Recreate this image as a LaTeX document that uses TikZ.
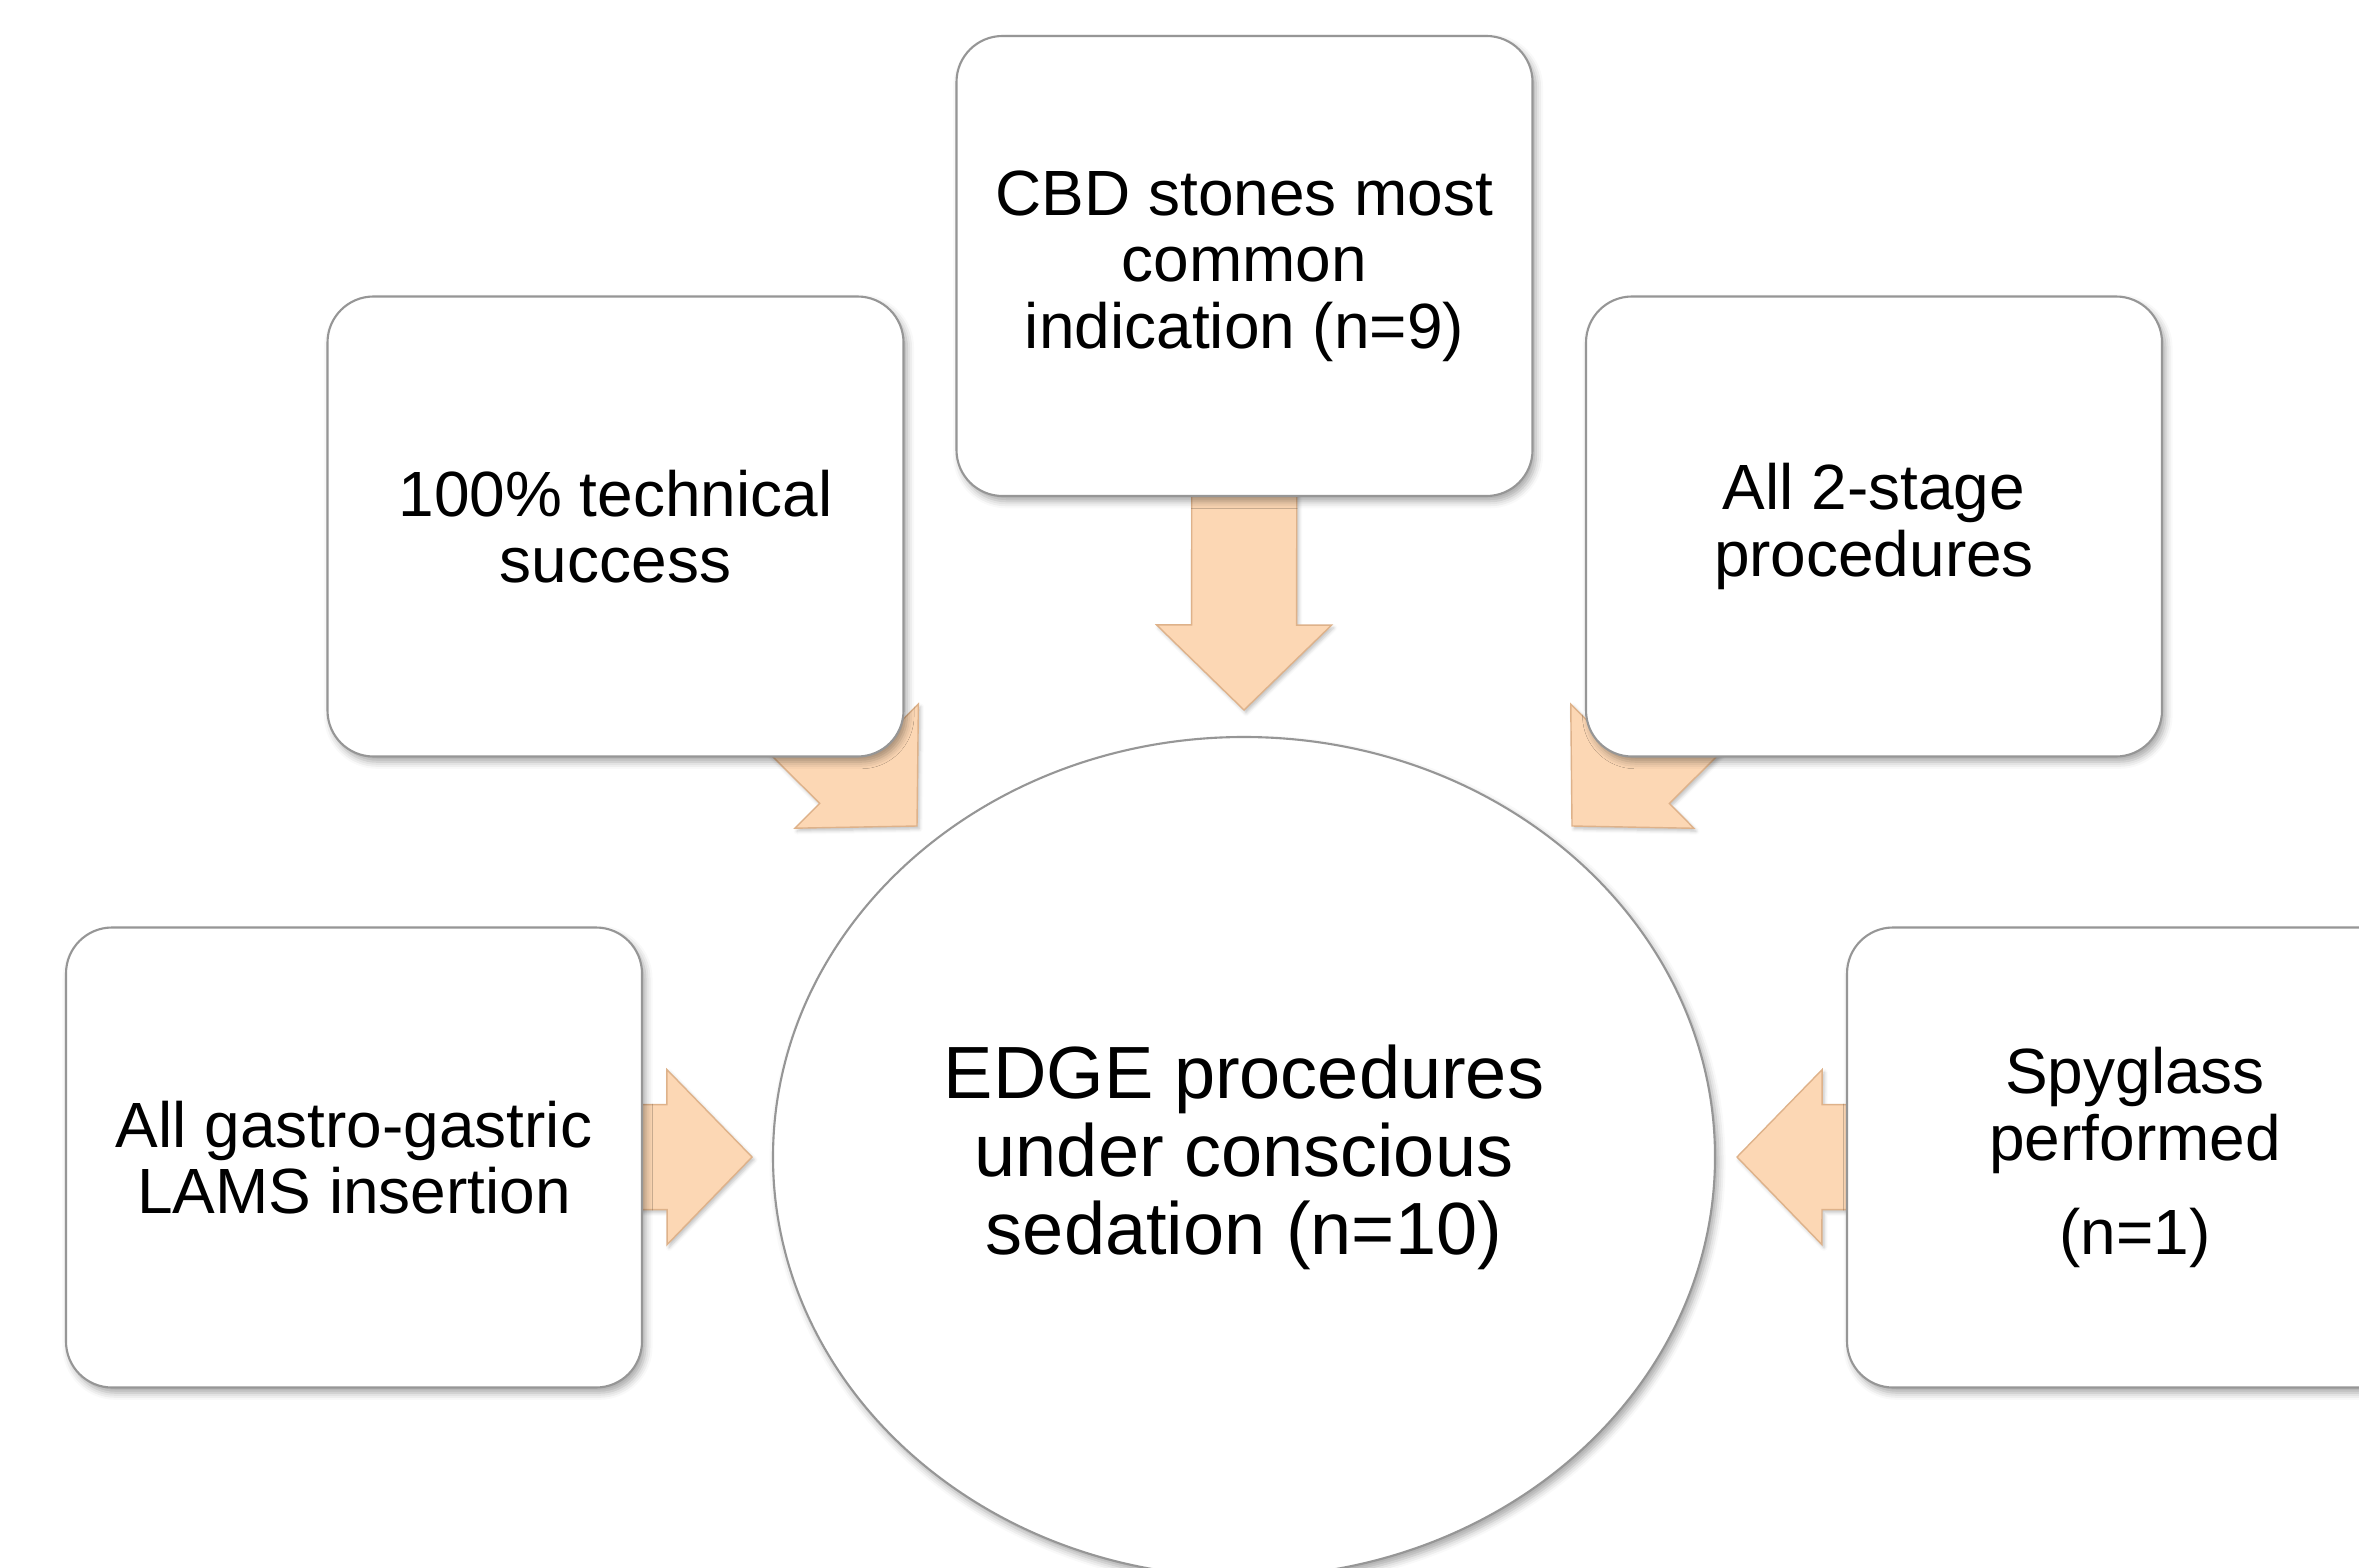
\documentclass[tikz,border=0pt]{standalone}
\usepackage{fontspec}
\setmainfont{Liberation Sans}
\usepackage{xcolor}
\usetikzlibrary{calc,positioning,shapes.geometric,shadows.blur,backgrounds}

\definecolor{peach}{RGB}{252,215,180}
\definecolor{peachline}{RGB}{222,178,138}
\definecolor{boxline}{RGB}{150,150,150}

% block arrow from the centre of #1 to the tip #2
\newcommand{\blockarrow}[2]{%
	\path ($(#2)!0.85cm!(#1)$) coordinate (hb);
	\filldraw[arrowbody] ($(#1)!0.525cm!90:(#2)$) -- ($(hb)!0.525cm!90:(#2)$) -- ($(hb)!0.875cm!90:(#2)$) -- (#2)
		-- ($(hb)!0.875cm!-90:(#2)$) -- ($(hb)!0.525cm!-90:(#2)$) -- ($(#1)!0.525cm!-90:(#2)$) -- cycle;}

\begin{document}
\begin{tikzpicture}[x=1cm, y=-1cm]
		\tikzstyle{every node}=[font=\fontsize{18.2}{18.9}\selectfont]
		\tikzstyle{infobox}=[draw=boxline, line width=0.6pt, fill=white, rounded corners=0.46cm, minimum width=5.76cm, minimum height=4.60cm, align=center, blur shadow={shadow xshift=1pt, shadow yshift=-1.5pt, shadow blur radius=2pt, shadow opacity=35}]
		\tikzstyle{hub}=[ellipse, draw=boxline, line width=0.6pt, fill=white, minimum width=9.42cm, minimum height=8.40cm, align=center, font=\fontsize{21.05}{22.2}\selectfont, blur shadow={shadow xshift=1pt, shadow yshift=-1.5pt, shadow blur radius=2pt, shadow opacity=35}]
		\tikzstyle{arrowbody}=[fill=peach, draw=peachline, line width=0.4pt, line join=miter, blur shadow={shadow xshift=0.6pt, shadow yshift=-0.8pt, shadow blur radius=1pt, shadow opacity=25}]
		\useasboundingbox (0,0) rectangle (23.59,15.68);
		\clip (0,0) rectangle (23.59,15.68);
		% centre
		\node[hub] (edge) at (12.44,11.57) {EDGE procedures\\under conscious\\sedation (n=10)};
		% boxes round it
		\node[infobox] (cbd) at (12.445,2.66) {CBD stones most\\common\\indication (n=9)};
		\node[infobox] (tech) at (6.155,5.265) {100\% technical\\success};
		\node[infobox] (stage) at (18.74,5.265) {All 2-stage\\procedures};
		\node[infobox] (lams) at (3.54,11.575) {All gastro-gastric\\LAMS insertion};
		\node[infobox] (spy) at (21.35,11.575) {Spyglass\\performed\\[0.28cm](n=1)};
		% arrow tips
		\coordinate (tipcbd) at (12.44,7.10);
		\coordinate (tiptech) at (9.17,8.26);
		\coordinate (tipstage) at (15.72,8.26);
		\coordinate (tiplams) at (7.52,11.57);
		\coordinate (tipspy) at (17.37,11.57);
		\begin{pgfonlayer}{background}
			\blockarrow{cbd}{tipcbd}
			\blockarrow{tech}{tiptech}
			\blockarrow{stage}{tipstage}
			\blockarrow{lams}{tiplams}
			\blockarrow{spy}{tipspy}
		\end{pgfonlayer}
	\end{tikzpicture}
\end{document}
